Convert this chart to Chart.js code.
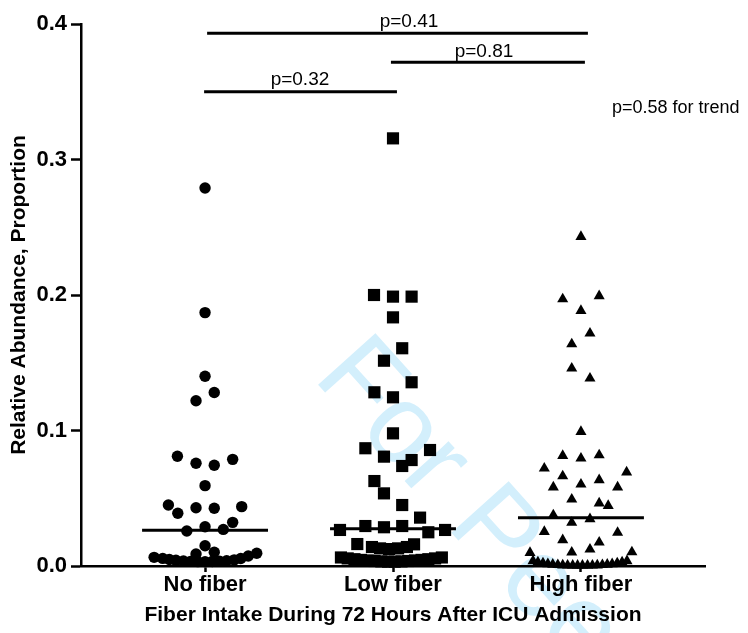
<!DOCTYPE html>
<html>
<head>
<meta charset="utf-8">
<script src="https://cdn.jsdelivr.net/npm/chart.js@4/dist/chart.umd.min.js"></script>
<style>
  html, body { margin: 0; padding: 0; background: #fff; }
  #c { display: block; }
</style>
</head>
<body>
<canvas id="c" width="748" height="633"></canvas>
<script>
// ---------------- DATA ----------------
const categories = ['No fiber', 'Low fiber', 'High fiber'];
const yTicks = [0, 0.1, 0.2, 0.3, 0.4];

const noFiberValues = [0.279, 0.187, 0.140, 0.128, 0.122, 0.081, 0.0758, 0.0743, 0.0787, 0.0593,
  0.045, 0.0389, 0.043, 0.0426, 0.0438, 0.0322, 0.029, 0.0258, 0.027, 0.015, 0.0089, 0.0101,
  0.0064, 0.0056, 0.0048, 0.0042, 0.0037, 0.0034, 0.0032, 0.0032, 0.0033, 0.0035, 0.0039, 0.0045, 0.0055, 0.0074, 0.0094];
const noFiberOffsets = [0, 0, 0, 0.049, -0.048, -0.147, -0.048, 0.049, 0.147, 0,
  -0.195, -0.145, -0.048, 0.049, 0.195, 0.147, 0, -0.097, 0.097, 0, -0.048, 0.049,
  -0.271, -0.225, -0.19, -0.155, -0.115, -0.077, -0.038, 0, 0.038, 0.077, 0.115, 0.155, 0.19, 0.23, 0.275];

const lowFiberValues = [0.3156, 0.2, 0.1988, 0.1988, 0.1835, 0.1607, 0.1515, 0.1356, 0.1282, 0.1245,
  0.0979, 0.0869, 0.0807, 0.0856, 0.0782, 0.0738, 0.0627, 0.0536, 0.045, 0.0357,
  0.0266, 0.0295, 0.0286, 0.0295, 0.0249, 0.0266,
  0.0162,
  0.014, 0.013, 0.0125, 0.013, 0.014, 0.016,
  0.0063, 0.0056, 0.005, 0.0045, 0.0041, 0.0037, 0.0034, 0.0032, 0.0032, 0.0034, 0.0037, 0.0041, 0.0045, 0.005, 0.0056, 0.0063];
const lowFiberOffsets = [0, -0.101, 0, 0.099, 0, 0.049, -0.048, 0.099, -0.099, 0,
  0, -0.147, -0.048, 0.197, 0.099, 0.049, -0.099, -0.048, 0.049, 0.144,
  -0.282, -0.147, -0.048, 0.049, 0.188, 0.277,
  -0.19,
  -0.112, -0.069, -0.021, 0.027, 0.074, 0.112,
  -0.277, -0.241, -0.205, -0.170, -0.134, -0.098, -0.062, -0.026, 0.009, 0.045, 0.081, 0.117, 0.152, 0.188, 0.224, 0.26];

const highFiberValues = [0.243, 0.197, 0.1993, 0.1884, 0.1717, 0.1638, 0.1459, 0.1385, 0.0991, 0.0814,
  0.0795, 0.0819, 0.0721, 0.0664, 0.0692, 0.0581, 0.0603, 0.0635, 0.0581, 0.0492,
  0.0463, 0.0445, 0.0376, 0.032, 0.0347, 0.0253, 0.0246, 0.0192, 0.0175, 0.0098,
  0.0101, 0.0123, 0.0103,
  0.0037, 0.0028, 0.0021, 0.0015, 0.0011, 0.0008, 0.0006, 0.0005, 0.0004, 0.0004,
  0.0004, 0.0004, 0.0005, 0.0006, 0.0008, 0.0011, 0.0015, 0.0021, 0.0028, 0.0037];
const highFiberOffsets = [0, -0.097, 0.097, 0, 0.048, -0.049, -0.049, 0.048, 0, -0.097,
  0, 0.097, -0.195, -0.097, 0.243, -0.147, 0, 0.097, 0.195, -0.049,
  0.097, 0.145, -0.147, -0.049, 0.048, -0.195, 0.195, -0.097, 0.097, -0.271,
  -0.049, 0.048, 0.271,
  -0.255, -0.229, -0.202, -0.176, -0.150, -0.123, -0.097, -0.071, -0.044, -0.018,
  0.008, 0.035, 0.061, 0.087, 0.114, 0.140, 0.166, 0.193, 0.219, 0.245];

const medians = [0.0263, 0.0275, 0.0356];

const pairFrom = [0, 1, 0];
const pairTo = [1, 2, 2];
const pairLabels = ['p=0.32', 'p=0.81', 'p=0.41'];
const trendLabel = 'p=0.58 for trend';

// ---------------- LAYOUT / STYLE ----------------
const FONT = "'Liberation Sans', Arial, Helvetica, sans-serif";
const medianHalfWidth = 0.335;
const bracketLayout = [
  { x1: -0.005, x2: 1.021, y: 0.350, tx: 0.505, ty: 0.355 },
  { x1: 0.989, x2: 2.021, y: 0.3717, tx: 1.484, ty: 0.3759 },
  { x1: 0.011, x2: 2.037, y: 0.3931, tx: 1.085, ty: 0.3976 }
];
const trendPos = { x: 2.165, y: 0.334 };

function toPoints(values, offsets, idx) {
  return values.map((v, i) => ({ x: idx + offsets[i], y: v }));
}

const groups = [
  { values: noFiberValues, offsets: noFiberOffsets, style: 'circle', radius: 5.7 },
  { values: lowFiberValues, offsets: lowFiberOffsets, style: 'rect', radius: 8.6 },
  { values: highFiberValues, offsets: highFiberOffsets, style: 'triangle', radius: 6.4 }
];

const datasets = [];
groups.forEach((g, i) => {
  datasets.push({
    type: 'scatter',
    label: categories[i],
    data: toPoints(g.values, g.offsets, i),
    pointStyle: g.style,
    pointRadius: g.radius,
    backgroundColor: '#000',
    borderColor: '#000',
    borderWidth: 0,
    clip: false
  });
});
medians.forEach((m, i) => {
  datasets.push({
    type: 'line',
    label: 'median ' + categories[i],
    data: [{ x: i - medianHalfWidth, y: m }, { x: i + medianHalfWidth, y: m }],
    borderColor: '#000',
    borderWidth: 3,
    pointRadius: 0,
    fill: false,
    clip: false
  });
});

const annotationPlugin = {
  id: 'annot',
  beforeDraw(chart) {
    const ctx = chart.ctx;
    ctx.save();
    ctx.fillStyle = '#d3effc';
    ctx.font = '112px ' + FONT;
    ctx.textAlign = 'left';
    ctx.textBaseline = 'alphabetic';
    ctx.translate(312, 378);
    ctx.rotate(48 * Math.PI / 180);
    ctx.fillText('For Peer Review', 0, 0);
    ctx.restore();
  },
  afterDatasetsDraw(chart) {
    const { ctx, scales: { x, y } } = chart;
    ctx.save();
    ctx.strokeStyle = '#000';
    ctx.lineWidth = 3;
    ctx.fillStyle = '#000';
    ctx.font = '19px ' + FONT;
    ctx.textAlign = 'center';
    ctx.textBaseline = 'alphabetic';
    bracketLayout.forEach((b, i) => {
      const yy = y.getPixelForValue(b.y);
      ctx.beginPath();
      ctx.moveTo(x.getPixelForValue(b.x1), yy);
      ctx.lineTo(x.getPixelForValue(b.x2), yy);
      ctx.stroke();
      ctx.fillText(pairLabels[i], x.getPixelForValue(b.tx), y.getPixelForValue(b.ty));
    });
    ctx.textAlign = 'left';
    ctx.font = '18px ' + FONT;
    ctx.fillText(trendLabel, x.getPixelForValue(trendPos.x), y.getPixelForValue(trendPos.y));
    ctx.restore();
  }
};

new Chart(document.getElementById('c'), {
  type: 'scatter',
  data: { datasets },
  plugins: [annotationPlugin],
  options: {
    responsive: false,
    devicePixelRatio: 1,
    animation: false,
    events: [],
    layout: { padding: { top: 24, right: 43, bottom: 0, left: 0 } },
    plugins: { legend: { display: false }, tooltip: { enabled: false } },
    scales: {
      x: {
        type: 'linear',
        min: -0.66,
        max: 2.66,
        afterBuildTicks: (s) => { s.ticks = categories.map((_, i) => ({ value: i })); },
        afterFit: (s) => { s.height = 67; },
        ticks: {
          callback: (v) => categories[v],
          color: '#000',
          font: { family: FONT, size: 22, weight: 'bold' },
          padding: 0,
          autoSkip: false,
          maxRotation: 0
        },
        grid: { drawOnChartArea: false, drawTicks: true, tickLength: 6, tickWidth: 2.5, color: '#000' },
        border: { display: true, color: '#000', width: 2.5 },
        title: {
          display: true,
          text: 'Fiber Intake During 72 Hours After ICU Admission',
          color: '#000',
          font: { family: FONT, size: 21, weight: 'bold' },
          padding: { top: 0, bottom: 5 }
        }
      },
      y: {
        min: 0,
        max: 0.4,
        afterBuildTicks: (s) => { s.ticks = yTicks.map(v => ({ value: v })); },
        afterFit: (s) => { s.width = 81; },
        ticks: {
          callback: (v) => Number(v).toFixed(1),
          color: '#000',
          font: { family: FONT, size: 22, weight: 'bold' },
          padding: 4
        },
        grid: { drawOnChartArea: false, drawTicks: true, tickLength: 10, tickWidth: 2.5, color: '#000' },
        border: { display: true, color: '#000', width: 2.5 },
        title: {
          display: true,
          text: 'Relative Abundance, Proportion',
          color: '#000',
          font: { family: FONT, size: 21, weight: 'bold' },
          padding: { top: 7, bottom: 0 }
        }
      }
    }
  }
});
</script>
</body>
</html>
